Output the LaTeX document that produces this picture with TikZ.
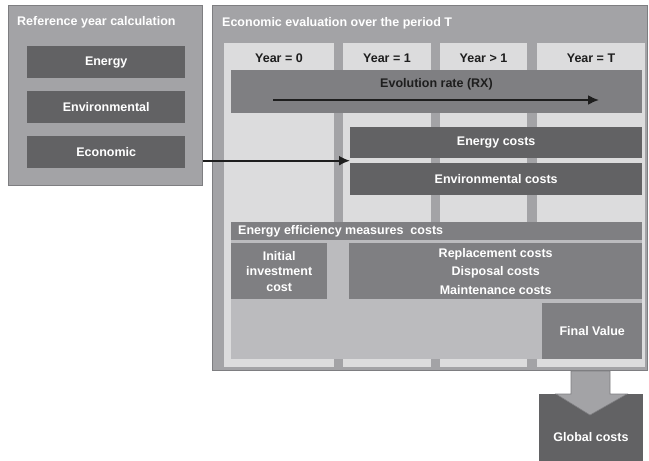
\documentclass[tikz,border=0pt]{standalone}
\usepackage{fontspec}
\setmainfont{Liberation Sans}
\usetikzlibrary{arrows.meta,calc}

\definecolor{panelgray}{HTML}{A3A3A6}
\definecolor{edgegray}{HTML}{7E7E81}
\definecolor{lanegray}{HTML}{DCDCDD}
\definecolor{darkgray}{HTML}{626264}
\definecolor{midgray}{HTML}{7F7F82}
\definecolor{lowgray}{HTML}{BBBBBE}
\definecolor{inkgray}{HTML}{1E1E1E}

\tikzset{
  lbl/.style={font=\fontsize{12.5}{15}\selectfont\bfseries},
  panel/.style={fill=panelgray, draw=edgegray, line width=0.9pt, inner sep=0pt, anchor=north west},
  lane/.style={fill=lanegray, inner sep=0pt, anchor=north west},
  darkbox/.style={fill=darkgray, inner sep=0pt, anchor=north west, text=white, lbl},
  midbox/.style={fill=midgray, inner sep=0pt, anchor=north west, text=white, lbl},
  wtext/.style={text=white, inner sep=0pt, lbl},
  ktext/.style={text=inkgray, inner sep=0pt, lbl},
  flow/.style={draw=inkgray, line width=2pt, -{Latex[length=11pt,width=10pt]}}
}

\begin{document}
\begin{tikzpicture}[x=1pt,y=-1pt]
\useasboundingbox (0,0) rectangle (649,461);

% ---- reference year panel ----
\node[panel, minimum width=194, minimum height=180] (leftpanel) at (8,5) {};
\node[wtext, anchor=west] (lefttitle) at (17,22) {Reference year calculation};
\node[darkbox, minimum width=158, minimum height=32] (energy) at (27,46) {Energy};
\node[darkbox, minimum width=158, minimum height=32] (environ) at (27,91) {Environmental};
\node[darkbox, minimum width=158, minimum height=32] (econ) at (27,136) {Economic};

% ---- economic evaluation panel ----
\node[panel, minimum width=435, minimum height=365] (rightpanel) at (212,5) {};
\node[wtext, anchor=west] (righttitle) at (222,23) {Economic evaluation over the period T};

% year lanes
\node[lane, minimum width=110, minimum height=324] (lane0) at (224,43) {};
\node[lane, minimum width=88,  minimum height=324] (lane1) at (343,43) {};
\node[lane, minimum width=87,  minimum height=324] (lane2) at (440,43) {};
\node[lane, minimum width=108, minimum height=324] (lane3) at (537,43) {};
\node[ktext] (y0) at (279,58) {Year = 0};
\node[ktext] (y1) at (387,58) {Year = 1};
\node[ktext] (y2) at (483.5,58) {Year > 1};
\node[ktext] (y3) at (591,58) {Year = T};

% evolution rate bar
\node[midbox, minimum width=411, minimum height=43] (evol) at (231,70) {};
\node[ktext] (evoltext) at (436.5,84) {Evolution rate (RX)};
\coordinate (evstart) at (273,100);
\coordinate (evend) at (599,100);
\draw[flow] (evstart) -- (evend);

% yearly costs
\node[darkbox, minimum width=292, minimum height=31] (encost) at (350,127) {Energy costs};
\node[darkbox, minimum width=292, minimum height=32] (envcost) at (350,163) {Environmental costs};
\coordinate (costsplit) at ($(encost.south west)!0.5!(envcost.north west)$);
\draw[flow] (leftpanel.east |- costsplit) -- (costsplit);

% energy efficiency measures
\node[fill=lowgray, inner sep=0pt, anchor=north west, minimum width=411, minimum height=119] (lowpanel) at (231,240) {};
\node[midbox, minimum width=411, minimum height=18] (eembar) at (231,222) {};
\node[wtext, anchor=west] (eemtext) at (238,231) {Energy efficiency measures\ \ costs};
\node[midbox, minimum width=96, minimum height=56, align=center,
      font=\fontsize{12.5}{15.5}\selectfont\bfseries] (initial) at (231,243) {Initial\\investment\\cost};
\node[midbox, minimum width=293, minimum height=56, align=center,
      font=\fontsize{12.5}{18.5}\selectfont\bfseries] (replace) at (349,243) {Replacement costs\\Disposal costs\\Maintenance costs};
\node[midbox, minimum width=100, minimum height=56] (final) at (542,303) {Final Value};

% ---- global costs ----
\node[darkbox, minimum width=104, minimum height=67] (global) at (539,394) {};
\node[wtext] (globaltext) at (591,437) {Global costs};
\draw[fill=panelgray, draw=edgegray, line width=0.6pt]
  (571,371) -- (610,371) -- (610,394) -- (627,394) -- (590,415) -- (556,394) -- (571,394) -- cycle;
\end{tikzpicture}
\end{document}
